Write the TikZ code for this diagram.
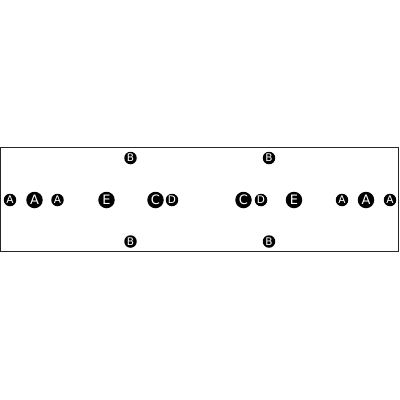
\documentclass[tikz,border=0pt]{standalone}
\usepackage{fontspec}
\setmainfont{DejaVu Sans}
\begin{document}
\begin{tikzpicture}[x=1pt,y=-1pt,
  big/.style={circle,fill=black,text=white,minimum size=16.5pt,inner sep=0pt,font=\fontsize{13}{13}\selectfont},
  small/.style={circle,fill=black,text=white,minimum size=12.5pt,inner sep=0pt,font=\fontsize{10.5}{10.5}\selectfont}]
\useasboundingbox (0,0) rectangle (400,400);
\draw[line width=1pt,black!85] (0.5,147.5) rectangle (398.5,251.5);
\node[small] (a1) at (10,200) {A};
\node[big]   (a2) at (34.5,200) {A};
\node[small] (a3) at (57.5,200) {A};
\node[big]   (e1) at (106.5,200) {E};
\node[big]   (c1) at (155.5,200) {C};
\node[small] (d1) at (172,200) {D};
\node[small] (b1) at (130.5,158) {B};
\node[small] (b2) at (130.5,241.5) {B};
\node[big]   (c2) at (243.5,200) {C};
\node[small] (d2) at (261,200) {D};
\node[big]   (e2) at (294,200) {E};
\node[small] (a4) at (342,200) {A};
\node[big]   (a5) at (366,200) {A};
\node[small] (a6) at (390,200) {A};
\node[small] (b3) at (269,158) {B};
\node[small] (b4) at (269,241.5) {B};
\end{tikzpicture}
\end{document}
